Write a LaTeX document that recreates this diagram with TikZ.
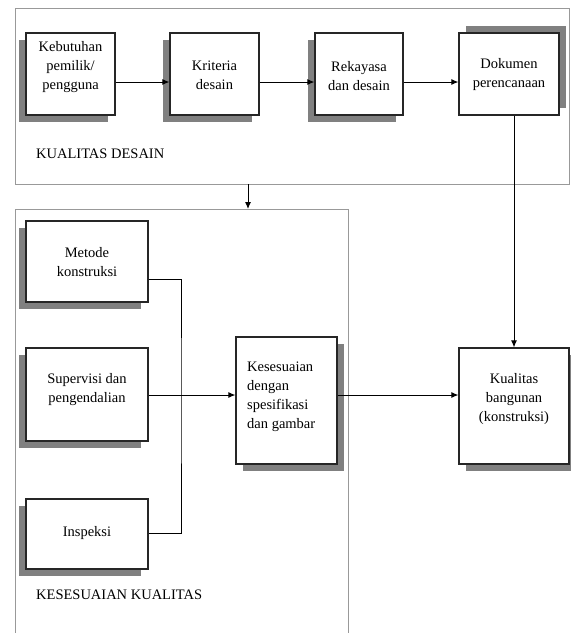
\documentclass[tikz,border=0pt]{standalone}
\usepackage{fontspec}
\setmainfont{Liberation Serif}
\usetikzlibrary{arrows.meta,shadows,calc}

\begin{document}
\begin{tikzpicture}[x=1pt,y=-1pt,
  box/.style={draw=black!85,line width=1.2pt,fill=white,inner sep=0pt},
  shadowBL/.style={drop shadow={shadow xshift=-7pt,shadow yshift=-7pt,fill=black!50,opacity=1}},
  shadowTR/.style={drop shadow={shadow xshift=7pt,shadow yshift=7pt,fill=black!50,opacity=1}},
  shadowBR/.style={drop shadow={shadow xshift=7pt,shadow yshift=-7pt,fill=black!50,opacity=1}},
  txt/.style={font=\fontsize{14.5}{19}\selectfont,align=center,inner sep=0pt},
  frame/.style={draw=black!40,line width=1pt},
  conn/.style={draw=black,line width=1pt},
  arr/.style={conn,-{Latex[length=7pt,width=6pt]}}]

\useasboundingbox (0,0) rectangle (571,633);

% Outer frame: design quality
\node[frame,minimum width=554pt,minimum height=176pt,inner sep=0pt] (kd) at (292,96) {};
\node[txt,anchor=west] (kdl) at (36,154) {KUALITAS DESAIN};

% Outer frame: quality conformance (open at the bottom)
\draw[frame] (15,640) |- (348,209) -- (348,640);
\node[txt,anchor=west] (ksl) at (36,595) {KESESUAIAN KUALITAS};

% Design chain
\node[box,shadowBL,minimum width=89pt,minimum height=82pt] (b1) at (70.5,74) {};
\node[txt] (t1) at (70.5,67) {Kebutuhan\\pemilik/\\pengguna};
\node[box,shadowBL,minimum width=89pt,minimum height=82pt] (b2) at (214.5,74) {};
\node[txt] (t2) at (214.5,75) {Kriteria\\desain};
\node[box,shadowBL,minimum width=88pt,minimum height=82pt] (b3) at (359,74) {};
\node[txt] (t3) at (359,76) {Rekayasa\\dan desain};
\node[box,shadowTR,minimum width=100pt,minimum height=82pt] (b4) at (509,74) {};
\node[txt] (t4) at (509,75) {Dokumen\\perencanaan};

% Conformance inputs
\node[box,shadowBL,minimum width=122pt,minimum height=81pt] (m) at (87,261.5) {};
\node[txt] (tm) at (87,262) {Metode\\konstruksi};
\node[box,shadowBL,minimum width=122pt,minimum height=93pt] (s) at (87,394.5) {};
\node[txt] (ts) at (87,390) {Supervisi dan\\pengendalian};
\node[box,shadowBL,minimum width=122pt,minimum height=70pt] (ins) at (87,534) {};
\node[txt] (tins) at (87,533) {Inspeksi};

% Conformance with specifications
\node[box,shadowBR,minimum width=101pt,minimum height=127pt] (k) at (286.5,400.5) {};
\node[txt,align=left,anchor=west] (tk) at (247,397) {Kesesuaian\\dengan\\spesifikasi\\dan gambar};

% Building quality
\node[box,shadowBR,minimum width=110pt,minimum height=116pt] (q) at (514,406) {};
\node[txt] (tq) at (514,399) {Kualitas\\bangunan\\(konstruksi)};

% Connectors in the design chain
\draw[arr] ([yshift=-8pt]b1.east) -- ([yshift=-8pt]b2.west);
\draw[arr] ([yshift=-8pt]b2.east) -- ([yshift=-8pt]b3.west);
\draw[arr] ([yshift=-8pt]b3.east) -- ([yshift=-8pt]b4.west);
\draw[arr] (b4.south -| q.north) -- (q.north);

% Design frame feeds the conformance frame
\coordinate (d1) at (248,184);
\coordinate (d2) at (248,209);
\draw[arr] (d1) -- (d2);

% Collector line from the inputs
\coordinate (j) at (181,395);
\draw[conn] ([yshift=-18pt]m.east) -| (j) |- ([yshift=1pt]ins.east);
\draw[arr] ([yshift=-0.5pt]s.east) -- ([yshift=-0.5pt]s.east -| k.west);
\draw[arr] ([yshift=-0.5pt]s.east -| k.east) -- ([yshift=-0.5pt]s.east -| q.west);
\end{tikzpicture}
\end{document}
